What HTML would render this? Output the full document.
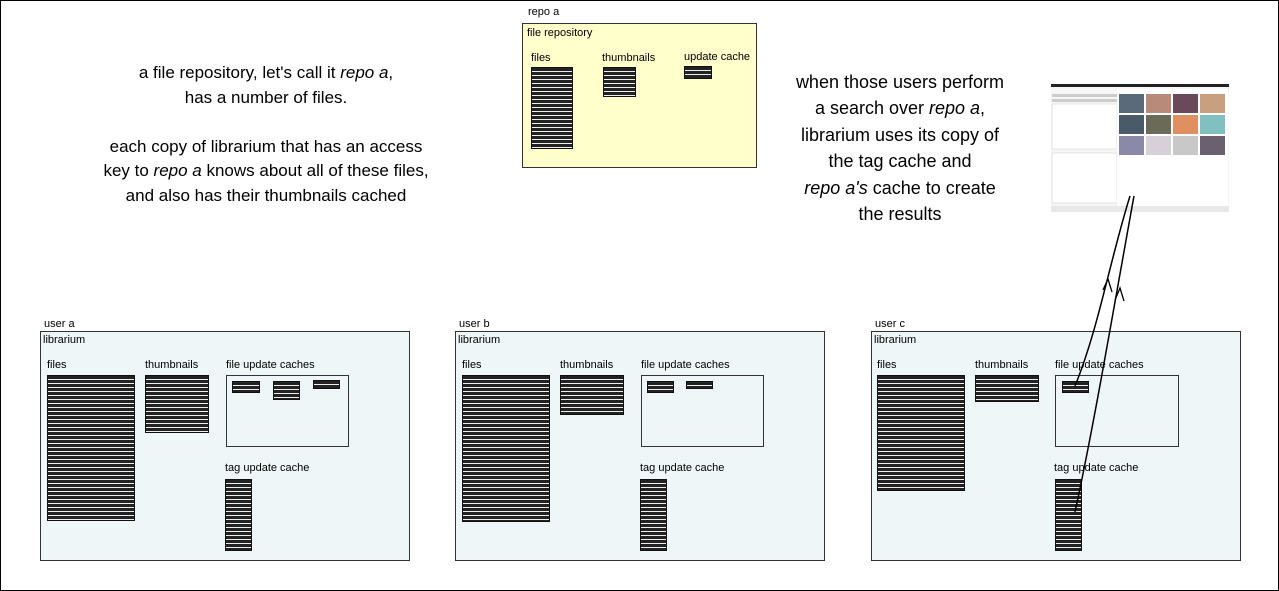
<!DOCTYPE html>
<html><head><meta charset="utf-8"><style>
body{margin:0;width:1279px;height:591px;position:relative;background:#fff;font-family:"Liberation Sans",sans-serif;overflow:hidden}
.a{position:absolute}
.frame{left:0;top:0;width:1277px;height:589px;border:1px solid #000}
.lbl{font-size:11px;color:#000;white-space:nowrap}
.box{border:1px solid #333;box-sizing:border-box}
.st{box-sizing:border-box;border:1px solid #111;background:repeating-linear-gradient(to bottom,#222 0,#222 3px,#eee 3px,#eee 4px)}
.txt{text-align:center;color:#000;white-space:nowrap}
</style></head><body>
<div class="a frame"></div>

<div class="a txt" style="left:66px;top:61px;width:400px;font-size:17px;line-height:24.5px">a file repository, let's call it <i>repo a</i>,<br>has a number of files.<br><br>each copy of librarium that has an access<br>key to <i>repo a</i> knows about all of these files,<br>and also has their thumbnails cached</div>

<div class="a txt" style="left:750px;top:69px;width:300px;font-size:18px;line-height:26.4px">when those users perform<br>a search over <i>repo a</i>,<br>librarium uses its copy of<br>the tag cache and<br><i>repo a's</i> cache to create<br>the results</div>

<!-- repo a -->
<div class="a lbl" style="left:528px;top:6px">repo a</div>
<div class="a box" style="left:522px;top:23px;width:235px;height:145px;background:#ffffcc"></div>
<div class="a lbl" style="left:527px;top:27px">file repository</div>
<div class="a lbl" style="left:531px;top:52px">files</div>
<div class="a st" style="left:531px;top:67px;width:42px;height:82px"></div>
<div class="a lbl" style="left:602px;top:52px">thumbnails</div>
<div class="a st" style="left:603px;top:67px;width:33px;height:30px"></div>
<div class="a lbl" style="left:684px;top:51px">update cache</div>
<div class="a st" style="left:684px;top:66px;width:28px;height:13px"></div>

<!-- user a -->
<div class="a lbl" style="left:44px;top:318px">user a</div>
<div class="a box" style="left:40px;top:331px;width:370px;height:230px;background:#eef6f8"></div>
<div class="a lbl" style="left:43px;top:334px">librarium</div>
<div class="a lbl" style="left:47px;top:359px">files</div>
<div class="a st" style="left:47px;top:375px;width:88px;height:146px"></div>
<div class="a lbl" style="left:145px;top:359px">thumbnails</div>
<div class="a st" style="left:145px;top:375px;width:64px;height:58px"></div>
<div class="a lbl" style="left:226px;top:359px">file update caches</div>
<div class="a box" style="left:226px;top:375px;width:123px;height:72px"></div>
<div class="a st" style="left:232px;top:381px;width:28px;height:12px"></div>
<div class="a st" style="left:273px;top:381px;width:27px;height:19px"></div>
<div class="a st" style="left:313px;top:380px;width:27px;height:9px"></div>
<div class="a lbl" style="left:225px;top:462px">tag update cache</div>
<div class="a st" style="left:225px;top:479px;width:27px;height:72px"></div>

<!-- user b -->
<div class="a lbl" style="left:459px;top:318px">user b</div>
<div class="a box" style="left:455px;top:331px;width:370px;height:230px;background:#eef6f8"></div>
<div class="a lbl" style="left:458px;top:334px">librarium</div>
<div class="a lbl" style="left:462px;top:359px">files</div>
<div class="a st" style="left:462px;top:375px;width:88px;height:147px"></div>
<div class="a lbl" style="left:560px;top:359px">thumbnails</div>
<div class="a st" style="left:560px;top:375px;width:64px;height:40px"></div>
<div class="a lbl" style="left:641px;top:359px">file update caches</div>
<div class="a box" style="left:641px;top:375px;width:123px;height:72px"></div>
<div class="a st" style="left:647px;top:381px;width:27px;height:12px"></div>
<div class="a st" style="left:686px;top:381px;width:27px;height:8px"></div>
<div class="a lbl" style="left:640px;top:462px">tag update cache</div>
<div class="a st" style="left:640px;top:479px;width:27px;height:72px"></div>

<!-- user c -->
<div class="a lbl" style="left:875px;top:318px">user c</div>
<div class="a box" style="left:871px;top:331px;width:370px;height:230px;background:#eef6f8"></div>
<div class="a lbl" style="left:874px;top:334px">librarium</div>
<div class="a lbl" style="left:877px;top:359px">files</div>
<div class="a st" style="left:877px;top:375px;width:88px;height:116px"></div>
<div class="a lbl" style="left:975px;top:359px">thumbnails</div>
<div class="a st" style="left:975px;top:375px;width:64px;height:27px"></div>
<div class="a lbl" style="left:1055px;top:359px">file update caches</div>
<div class="a box" style="left:1055px;top:375px;width:124px;height:72px"></div>
<div class="a st" style="left:1062px;top:381px;width:27px;height:12px"></div>
<div class="a lbl" style="left:1054px;top:462px">tag update cache</div>
<div class="a st" style="left:1055px;top:479px;width:27px;height:72px"></div>

<!-- screenshot -->
<svg class="a" style="left:1051px;top:84px" width="178" height="128" viewBox="0 0 178 128">
<rect x="0" y="0" width="178" height="128" fill="#f6f6f6"/>
<rect x="0" y="0" width="178" height="3" fill="#222"/>
<rect x="1" y="10" width="65" height="3" fill="#ccc"/>
<rect x="1" y="15" width="65" height="3" fill="#ccc"/>
<rect x="1" y="20" width="65" height="45" fill="#fff" stroke="#ccc" stroke-width="0.5"/>
<rect x="1" y="69" width="65" height="50" fill="#fff" stroke="#ccc" stroke-width="0.5"/>
<rect x="66" y="5" width="111" height="118" fill="#fff"/>
<g>
<rect x="68" y="10" width="25" height="19" fill="#5a6a78"/><rect x="95" y="10" width="25" height="19" fill="#b88a7a"/><rect x="122" y="10" width="25" height="19" fill="#6a4a5a"/><rect x="149" y="10" width="25" height="19" fill="#c8a080"/>
<rect x="68" y="31" width="25" height="19" fill="#4a5a68"/><rect x="95" y="31" width="25" height="19" fill="#6a6a58"/><rect x="122" y="31" width="25" height="19" fill="#e09060"/><rect x="149" y="31" width="25" height="19" fill="#80c0c0"/>
<rect x="68" y="52" width="25" height="19" fill="#8a8aa8"/><rect x="95" y="52" width="25" height="19" fill="#d8d0d8"/><rect x="122" y="52" width="25" height="19" fill="#c8c8c8"/><rect x="149" y="52" width="25" height="19" fill="#6a6070"/>
</g>
<rect x="0" y="122" width="178" height="6" fill="#e8e8e8"/>
</svg>

<!-- arrows -->
<svg class="a" style="left:0;top:0" width="1279" height="591">
<path d="M1075,386 C1098,330 1110,260 1130,196" fill="none" stroke="#000" stroke-width="1.5"/>
<path d="M1075,512 C1095,420 1115,300 1134,196" fill="none" stroke="#000" stroke-width="1.5"/>
<path d="M1103,290 L1108,279 L1112,292" fill="none" stroke="#000" stroke-width="1.3"/>
<path d="M1115,300 L1120,288 L1124,301" fill="none" stroke="#000" stroke-width="1.3"/>
</svg>
</body></html>
